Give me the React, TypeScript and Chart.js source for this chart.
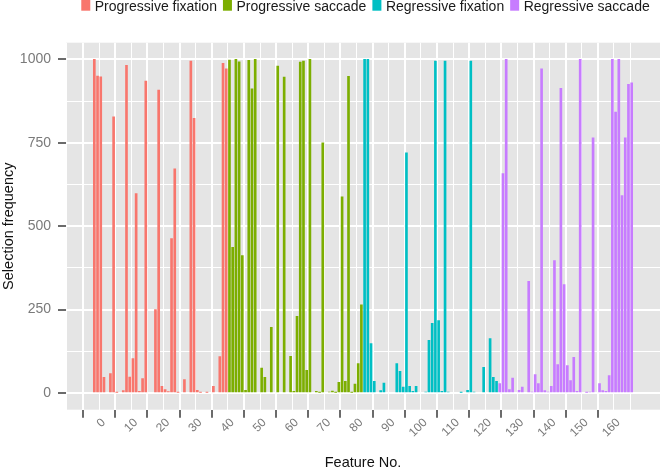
import React, { useEffect, useRef } from 'react';
import { Chart, registerables } from 'chart.js';

Chart.register(...registerables);

const seriesNames = ['Progressive fixation', 'Progressive saccade', 'Regressive fixation', 'Regressive saccade'];
const seriesColors = ['#F8766D', '#7CAE00', '#00BFC4', '#C77CFF'];

const progFixFeature = [1, 2, 3, 4, 6, 7, 8, 10, 11, 12, 13, 14, 15, 16, 17, 20, 21, 22, 23, 24, 25, 26, 27, 29, 31, 32, 33, 34, 36, 38, 40, 41, 42];
const progFixFreq = [1000, 950, 948, 47, 58, 828, 2, 7, 982, 48, 103, 598, 5, 43, 935, 250, 908, 20, 10, 4, 463, 672, 2, 40, 995, 823, 8, 2, 2, 20, 109, 988, 972];

const progSacFeature = [43, 44, 45, 46, 47, 48, 49, 50, 51, 53, 54, 56, 58, 60, 62, 63, 64, 65, 66, 67, 68, 70, 71, 72, 74, 75, 76, 77, 78, 79, 80, 81, 82, 83, 84];
const progSacFreq = [998, 437, 1000, 993, 412, 8, 997, 912, 1000, 75, 47, 197, 980, 947, 110, 5, 230, 992, 995, 68, 1000, 5, 2, 750, 3, 6, 2, 32, 588, 35, 949, 2, 27, 88, 264];

const regFixFeature = [85, 86, 87, 88, 90, 91, 95, 96, 97, 98, 99, 100, 101, 104, 105, 106, 107, 108, 109, 110, 111, 115, 117, 118, 119, 122, 124, 125, 126];
const regFixFreq = [1000, 1000, 148, 35, 7, 30, 88, 65, 18, 720, 20, 5, 20, 3, 158, 209, 995, 217, 5, 995, 3, 2, 8, 995, 3, 77, 163, 47, 35];

const regSacFeature = [127, 128, 129, 130, 131, 133, 134, 136, 137, 138, 139, 140, 141, 142, 143, 144, 145, 146, 147, 148, 149, 150, 151, 152, 154, 155, 156, 158, 159, 160, 161, 162, 163, 164, 165, 166, 167, 168];
const regSacFreq = [28, 658, 1000, 10, 45, 8, 18, 335, 3, 55, 28, 972, 7, 3, 20, 397, 85, 913, 325, 82, 37, 107, 5, 1000, 2, 3, 765, 28, 7, 5, 52, 1000, 842, 1000, 592, 765, 925, 930];

const xTickLabels = [0, 10, 20, 30, 40, 50, 60, 70, 80, 90, 100, 110, 120, 130, 140, 150, 160];
const yTickLabels = [0, 250, 500, 750, 1000];

const FONT = "'Liberation Sans', Arial, sans-serif";

function toPoints(xs: number[], ys: number[]) {
  return xs.map((x, i) => ({ x, y: ys[i] }));
}

export default function App() {
  const ref = useRef<HTMLCanvasElement | null>(null);

  useEffect(() => {
    if (!ref.current) return;
    const series = [
      toPoints(progFixFeature, progFixFreq),
      toPoints(progSacFeature, progSacFreq),
      toPoints(regFixFeature, regFixFreq),
      toPoints(regSacFeature, regSacFreq),
    ];
    const panelBg = {
      id: 'panelBg',
      beforeDraw(chart: any) {
        const { ctx, chartArea } = chart;
        ctx.save();
        ctx.fillStyle = '#E5E5E5';
        ctx.fillRect(chartArea.left, chartArea.top, chartArea.right - chartArea.left, chartArea.bottom - chartArea.top);
        ctx.restore();
      },
    };
    const topLegend = {
      id: 'topLegend',
      afterDraw(chart: any) {
        const { ctx, chartArea } = chart;
        const ds = chart.data.datasets;
        const boxW = 9;
        const gapText = 4.5;
        const gapItem = 6;
        ctx.save();
        ctx.font = `14px ${FONT}`;
        const widths = ds.map((d: any) => ctx.measureText(d.label).width);
        const total = widths.reduce((a: number, w: number) => a + boxW + gapText + w, 0) + gapItem * (ds.length - 1);
        let x = (chartArea.left + chartArea.right) / 2 + 2.5 - total / 2;
        ds.forEach((d: any, i: number) => {
          ctx.fillStyle = d.backgroundColor;
          ctx.fillRect(x, -1, boxW, 11.7);
          ctx.fillStyle = '#1a1a1a';
          ctx.textBaseline = 'alphabetic';
          ctx.textAlign = 'left';
          ctx.fillText(d.label, x + boxW + gapText, 11.3);
          x += boxW + gapText + widths[i] + gapItem;
        });
        ctx.restore();
      },
    };
    const chart = new Chart(ref.current, {
      type: 'bar',
      data: {
        datasets: series.map((d, i) => ({
          label: seriesNames[i],
          data: d,
          backgroundColor: seriesColors[i],
          borderWidth: 0,
          barThickness: 2,
          grouped: false,
        })),
      },
      options: {
        responsive: false,
        animation: false,
        devicePixelRatio: 1,
        layout: { padding: { top: 42.7, left: 0, right: 0, bottom: 0 } },
        plugins: {
          tooltip: { enabled: false },
          legend: { display: false },
        },
        scales: {
          x: {
            type: 'linear',
            min: -7.8,
            max: 176.8,
            offset: false,
            border: { display: false },
            grid: {
              color: '#FFFFFF',
              lineWidth: (c: any) => {
                const v = c.tick ? c.tick.value : 0;
                if (xTickLabels.includes(v)) return 2;
                if (v <= 170) return 1;
                return 0;
              },
              drawTicks: true,
              tickLength: 8,
              tickWidth: 2,
              tickColor: (c: any) => (c.tick && xTickLabels.includes(c.tick.value) ? '#6b6b6b' : 'rgba(0,0,0,0)'),
            },
            ticks: {
              stepSize: 5,
              includeBounds: false,
              autoSkip: false,
              minRotation: 45,
              maxRotation: 45,
              padding: -2,
              labelOffset: 12.5,
              color: '#7a7a7a',
              font: { family: FONT, size: 12 },
              callback: (v: any) => (xTickLabels.includes(v) ? String(v) : ''),
            },
            title: {
              display: true,
              text: 'Feature No.',
              color: '#111111',
              font: { family: FONT, size: 14.5 },
              padding: { top: -2, bottom: -2 },
            },
            afterFit: (s: any) => {
              s.height = 60.3;
              s.paddingLeft = 0;
              s.paddingRight = 0;
            },
          },
          y: {
            type: 'linear',
            min: -50,
            max: 1050,
            border: { display: false },
            grid: {
              color: '#FFFFFF',
              lineWidth: (c: any) => (c.tick && yTickLabels.includes(c.tick.value) ? 2 : 1),
              drawTicks: true,
              tickLength: 8,
              tickWidth: 2,
              tickColor: (c: any) => (c.tick && yTickLabels.includes(c.tick.value) ? '#6b6b6b' : 'rgba(0,0,0,0)'),
            },
            ticks: {
              stepSize: 125,
              includeBounds: false,
              padding: 7,
              color: '#7a7a7a',
              font: { family: FONT, size: 14 },
              callback: (v: any) => (yTickLabels.includes(v) ? String(v) : ''),
            },
            title: {
              display: true,
              text: 'Selection frequency',
              color: '#111111',
              font: { family: FONT, size: 14.5 },
              padding: { top: 0, bottom: 0 },
            },
            afterFit: (s: any) => {
              s.width = 66;
              s.paddingTop = 0;
              s.paddingBottom = 0;
            },
          },
        },
      },
      plugins: [panelBg, topLegend],
    });
    return () => chart.destroy();
  }, []);

  return (
    <div style={{ position: 'absolute', left: 0, top: 0, width: 660, height: 470, background: '#ffffff' }}>
      <canvas ref={ref} width={660} height={470} style={{ display: 'block' }} />
    </div>
  );
}
